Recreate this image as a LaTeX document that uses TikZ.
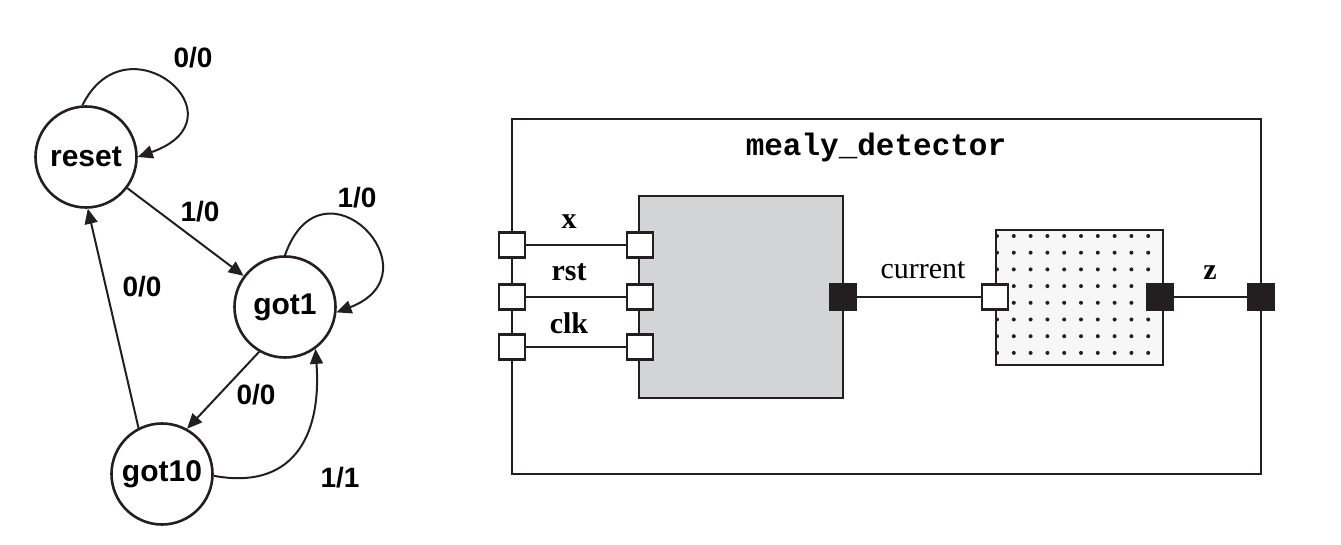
\documentclass[tikz,border=0pt]{standalone}
\usepackage{fontspec}
\setmainfont{Liberation Serif}
\setsansfont{Liberation Sans}
\setmonofont{Liberation Mono}
\usetikzlibrary{arrows.meta}
\definecolor{ink}{HTML}{231F20}
\definecolor{boxgray}{HTML}{D3D4D6}
\definecolor{dotbg}{HTML}{F7F7F7}
\begin{document}
\begin{tikzpicture}[x=0.5pt,y=-0.5pt,
  state/.style={circle,draw=ink,line width=1.3pt,minimum size=50.5pt,inner sep=0pt,font=\sffamily\bfseries\fontsize{15}{18}\selectfont},
  edgelabel/.style={font=\sffamily\bfseries\fontsize{14}{17}\selectfont},
  trans/.style={draw=ink,line width=1pt,-{Triangle[length=7.5pt,width=6.5pt]}},
  port/.style={rectangle,draw=ink,line width=1.1pt,fill=white,minimum width=13pt,minimum height=12.5pt,inner sep=0pt},
  blackport/.style={port,fill=ink},
  wire/.style={draw=ink,line width=1pt},
  frame/.style={rectangle,draw=ink,line width=1.1pt,inner sep=0pt},
  sig/.style={font=\rmfamily\bfseries\fontsize{15}{18}\selectfont},
  sigplain/.style={font=\rmfamily\fontsize{15}{18}\selectfont},
]
\useasboundingbox (0,0) rectangle (1341,545);

% ---------- state diagram ----------
\node[state] (reset) at (86,157) {reset};
\node[state] (got1) at (285,307) {got1};
\node[state] (got10) at (162,474) {got10};

\draw[trans] (reset.94) .. controls (127,15) and (248,118) .. (reset.east);
\draw[trans] (got1.north) .. controls (322,150) and (440,273) .. (got1.-6);
\draw[trans] (reset) -- (got1);
\draw[trans] (got1.-120) -- (got10.61);
\draw[trans] (got10.117) -- (reset.-88);
\draw[trans] (got10.-2) .. controls (290,490) and (322,440) .. (got1.-54);

\node[edgelabel] (l1) at (193,58) {0/0};
\node[edgelabel] (l2) at (200,212) {1/0};
\node[edgelabel] (l3) at (357,198) {1/0};
\node[edgelabel] (l4) at (142,287) {0/0};
\node[edgelabel] (l5) at (256,395) {0/0};
\node[edgelabel] (l6) at (340,478) {1/1};

% ---------- block diagram ----------
\node[frame,minimum width=374.5pt,minimum height=177.5pt] (top) at (886.5,296.5) {};
\node[font=\ttfamily\bfseries\fontsize{15.5}{18}\selectfont] (title) at (876,147) {mealy\_detector};

\node[frame,fill=boxgray,line width=1pt,minimum width=102pt,minimum height=101pt] (fsm) at (741,297) {};
\node[frame,fill=dotbg,line width=1.1pt,minimum width=83.5pt,minimum height=67.5pt] (dec) at (1079.5,297.5) {};
\begin{scope}
  \clip (996,230) rectangle (1163,365);
  \foreach \i in {0,...,9}
    \foreach \j in {0,...,7}
      \fill[ink] (997+16.8*\i,236+16.7*\j) circle (1pt);
\end{scope}

\node[port] (inx) at (512,245) {};
\node[port] (inrst) at (512,297) {};
\node[port] (inclk) at (512,347) {};
\node[port] (fx) at (640,245) {};
\node[port] (frst) at (640,297) {};
\node[port] (fclk) at (640,347) {};
\node[blackport] (fout) at (843,297) {};
\node[port] (cin) at (995,297) {};
\node[blackport] (cout) at (1160,297) {};
\node[blackport] (zout) at (1261,297) {};

\draw[wire] (inx) -- (fx);
\draw[wire] (inrst) -- (frst);
\draw[wire] (inclk) -- (fclk);
\draw[wire] (fout) -- (cin);
\draw[wire] (cout) -- (zout);

\node[sig] (lx) at (569,222) {x};
\node[sig] (lrst) at (569,272) {rst};
\node[sig] (lclk) at (569,323) {clk};
\node[sigplain] (lcur) at (923,270) {current};
\node[sig] (lz) at (1210,273) {z};
\end{tikzpicture}
\end{document}
